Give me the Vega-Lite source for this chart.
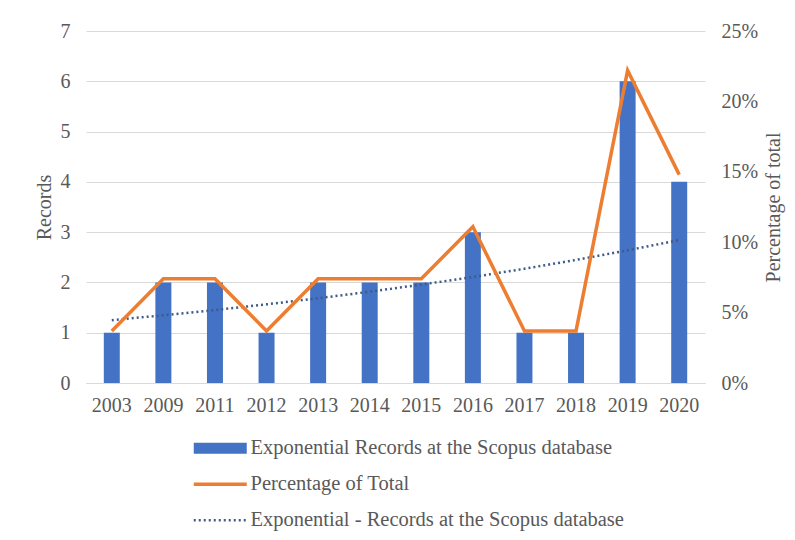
{
  "$schema": "https://vega.github.io/schema/vega-lite/v6.json",
  "autosize": {"type": "none"},
  "width": 619,
  "height": 352,
  "padding": {"left": 86, "top": 31, "right": 90, "bottom": 157},
  "background": "white",
  "config": {
    "font": "Times New Roman, Liberation Serif, serif",
    "view": {"stroke": null},
    "axis": {"labelFont": "Times New Roman, Liberation Serif, serif", "titleFont": "Times New Roman, Liberation Serif, serif", "labelColor": "#595959", "titleColor": "#595959", "labelFontSize": 20, "titleFontSize": 20, "titleFontWeight": "normal", "ticks": false, "labelOverlap": false},
    "legend": {"labelFont": "Times New Roman, Liberation Serif, serif"}
  },
  "datasets": {
    "main": [
      {"year": "2003", "records": 1, "pct": 0.037, "trend": 1.25},
      {"year": "2009", "records": 2, "pct": 0.074, "trend": 1.347},
      {"year": "2011", "records": 2, "pct": 0.074, "trend": 1.451},
      {"year": "2012", "records": 1, "pct": 0.037, "trend": 1.564},
      {"year": "2013", "records": 2, "pct": 0.074, "trend": 1.685},
      {"year": "2014", "records": 2, "pct": 0.074, "trend": 1.816},
      {"year": "2015", "records": 2, "pct": 0.074, "trend": 1.957},
      {"year": "2016", "records": 3, "pct": 0.111, "trend": 2.108},
      {"year": "2017", "records": 1, "pct": 0.037, "trend": 2.272},
      {"year": "2018", "records": 1, "pct": 0.037, "trend": 2.448},
      {"year": "2019", "records": 6, "pct": 0.222, "trend": 2.638},
      {"year": "2020", "records": 4, "pct": 0.148, "trend": 2.843}
    ]
  },
  "data": {"name": "main"},
  "encoding": {
    "x": {
      "field": "year", "type": "nominal", "sort": null,
      "scale": {"paddingInner": 0, "paddingOuter": 0},
      "axis": {"title": null, "labelAngle": 0, "labelPadding": 12, "domain": true, "domainColor": "#d9d9d9", "grid": false}
    }
  },
  "layer": [
    {
      "layer": [
        {
          "mark": {"type": "bar", "width": {"band": 0.31}},
          "transform": [{"calculate": "'Exponential Records at the Scopus database'", "as": "series"}],
          "encoding": {
            "y": {"field": "records", "type": "quantitative", "scale": {"domain": [0, 7]},
              "axis": {"title": "Records", "values": [0,1,2,3,4,5,6,7], "domain": false, "grid": true, "gridColor": "#d9d9d9", "labelPadding": 16, "titlePadding": 6}},
            "color": {
              "field": "series", "type": "nominal",
              "scale": {
                "domain": ["Exponential Records at the Scopus database", "Percentage of Total", "Exponential - Records at the Scopus database"],
                "range": ["#4472C4", "#ED7D31", "#3F5B87"]
              },
              "legend": {
                "title": null, "orient": "none", "legendX": 124, "legendY": 407, "direction": "vertical",
                "symbolType": "stroke", "symbolSize": 2809, "symbolStrokeWidth": 3.5,
                "labelFont": "Times New Roman, Liberation Serif, serif", "labelFontSize": 20.5, "labelColor": "#595959", "labelLimit": 600,
                "labelOffset": 20, "rowPadding": 3, "gridAlign": "all",
                "encode": {
                  "symbols": {
                    "update": {
                      "strokeWidth": {"signal": "datum.value === 'Exponential Records at the Scopus database' ? 11 : datum.value === 'Percentage of Total' ? 3.5 : 2.5"},
                      "strokeDash": {"signal": "datum.value === 'Exponential - Records at the Scopus database' ? [2, 3] : [1, 0]"}
                    }
                  }
                }
              }
            }
          }
        },
        {
          "mark": {"type": "line", "strokeDash": [2, 3], "strokeWidth": 2.5},
          "transform": [{"calculate": "'Exponential - Records at the Scopus database'", "as": "series"}],
          "encoding": {
            "y": {"field": "trend", "type": "quantitative"},
            "color": {"field": "series", "type": "nominal"}
          }
        }
      ]
    },
    {
      "mark": {"type": "line", "strokeWidth": 3.5},
      "transform": [{"calculate": "'Percentage of Total'", "as": "series"}],
      "encoding": {
        "y": {"field": "pct", "type": "quantitative", "scale": {"domain": [0, 0.25]},
          "axis": {"orient": "right", "title": "Percentage of total", "titleAngle": 270, "titleX": 68, "titleY": 176, "titleAlign": "center", "titleBaseline": "middle", "format": ".0%", "values": [0, 0.05, 0.1, 0.15, 0.2, 0.25], "domain": false, "grid": false, "labelPadding": 16}},
        "color": {"field": "series", "type": "nominal"}
      }
    }
  ],
  "resolve": {"scale": {"y": "independent"}}
}
